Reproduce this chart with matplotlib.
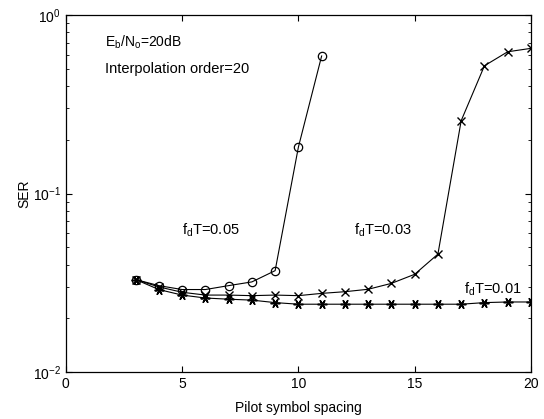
import matplotlib
matplotlib.use("Agg")
import matplotlib.pyplot as plt
from matplotlib.ticker import FixedLocator, LogLocator, NullFormatter

plt.rcParams['font.family'] = ['Liberation Sans', 'DejaVu Sans']
plt.rcParams['mathtext.fontset'] = 'custom'
plt.rcParams['mathtext.rm'] = 'Liberation Sans'

x05 = [3, 4, 5, 6, 7, 8, 9, 10, 11]
ser05 = [0.033, 0.0305, 0.029, 0.029, 0.0305, 0.032, 0.037, 0.182, 0.59]

x03 = list(range(3, 21))
ser03 = [0.033, 0.030, 0.028, 0.027, 0.027, 0.0268, 0.027, 0.0268, 0.0276,
         0.0282, 0.0291, 0.0314, 0.0353, 0.0458, 0.256, 0.52, 0.623, 0.651]

x01 = list(range(3, 21))
ser01 = [0.033, 0.029, 0.027, 0.026, 0.0256, 0.0253, 0.0245, 0.024, 0.024,
         0.024, 0.024, 0.024, 0.024, 0.024, 0.024, 0.0245, 0.0247, 0.0247]

xticks = [0, 5, 10, 15, 20]
yticks = [1e-2, 1e-1, 1e0]

fig = plt.figure(figsize=(5.44, 4.19), dpi=100)
ax = fig.add_axes([0.121, 0.112, 0.855, 0.852])

lw = 0.8
ax.plot(x05, ser05, color='black', lw=lw, marker='o', mfc='none', mec='black', ms=6, mew=0.9)
ax.plot(x03, ser03, color='black', lw=lw, marker='x', ms=6, mew=1.0)
ax.plot(x01, ser01, color='black', lw=lw, marker=(6, 2, 90), ms=7, mew=1.1)

ax.set_yscale('log')
ax.set_xlim(0, 20)
ax.set_ylim(1e-2, 1e0)
ax.xaxis.set_major_locator(FixedLocator(xticks))
ax.yaxis.set_major_locator(FixedLocator(yticks))
ax.yaxis.set_minor_locator(LogLocator(base=10, subs=range(2, 10)))
ax.yaxis.set_minor_formatter(NullFormatter())
ax.tick_params(which='both', direction='in', top=True, right=True, labelsize=10)
ax.tick_params(which='major', length=4)
ax.tick_params(which='minor', length=2)
for s in ax.spines.values():
    s.set_linewidth(0.9)

ax.set_xlabel('Pilot symbol spacing', fontsize=10, labelpad=7)
ax.set_ylabel('SER', fontsize=10, labelpad=1)

fs = 10.5
ax.text(1.7, 0.70, r'E$_\mathregular{b}$/N$_\mathregular{o}$=20dB', fontsize=10, va='center', ha='left')
ax.text(1.7, 0.50, 'Interpolation order=20', fontsize=fs, va='center', ha='left')
ax.text(5.0, 0.0625, r'f$_\mathregular{d}$T=0.05', fontsize=fs, va='center', ha='left')
ax.text(12.4, 0.0625, r'f$_\mathregular{d}$T=0.03', fontsize=fs, va='center', ha='left')
ax.text(17.1, 0.0290, r'f$_\mathregular{d}$T=0.01', fontsize=fs, va='center', ha='left')

fig.savefig('out.png', dpi=100)
